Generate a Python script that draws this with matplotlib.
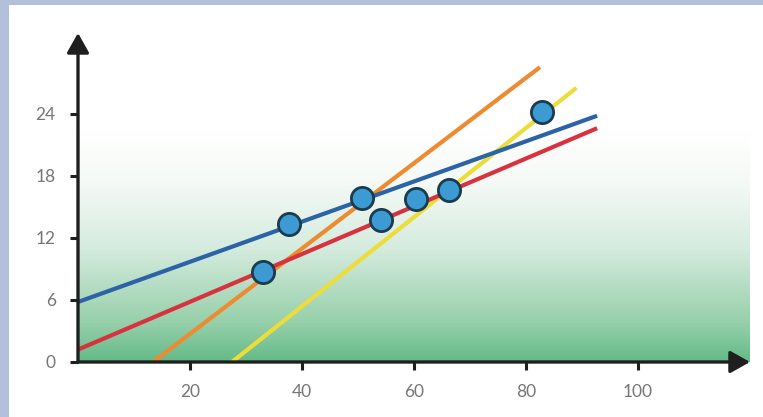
import matplotlib

matplotlib.use("Agg")
import matplotlib.pyplot as plt
import numpy as np
from matplotlib.colors import LinearSegmentedColormap
from matplotlib.patches import Rectangle

# data
point_x = [33.0, 37.6, 50.7, 54.1, 60.4, 66.3, 82.8]
point_y = [8.7, 13.3, 15.9, 13.7, 15.8, 16.6, 24.2]

blue_x = [0.0, 92.7]
blue_y = [5.8, 23.8]
red_x = [0.0, 92.7]
red_y = [1.2, 22.6]
orange_x = [13.4, 82.5]
orange_y = [0.0, 28.5]
yellow_x = [27.5, 89.0]
yellow_y = [0.0, 26.5]

x_ticks = [20, 40, 60, 80, 100]
y_ticks = [0, 6, 12, 18, 24]
x_max = 120.0
y_max = 31.8

plt.rcParams["font.family"] = ["Lato", "DejaVu Sans"]

fig = plt.figure(figsize=(7.63, 4.17), dpi=100)
# screenshot frame around the slide
fig.patches.append(Rectangle((0, 0), 1, 1, transform=fig.transFigure,
                             facecolor="#b3c0dc", edgecolor="none", zorder=-3))
fig.patches.append(Rectangle((9 / 763, 0), 1, 1 - 5 / 417, transform=fig.transFigure,
                             facecolor="white", edgecolor="none", zorder=-2))

ax = fig.add_axes([78 / 763, 55 / 417, 672 / 763, 329 / 417])
ax.patch.set_alpha(0)

green = LinearSegmentedColormap.from_list(
    "bg", [(0.0, "#64ba87"), (0.12, "#97d0ab"), (0.35, "#d6ecdf"),
           (0.55, "#f5faf6"), (0.7, "#ffffff"), (1.0, "#ffffff")]
)
grad = np.linspace(0, 1, 256).reshape(-1, 1)
ax.imshow(grad, cmap=green, origin="lower", aspect="auto",
          extent=[0, x_max, 0, y_max], zorder=0)

ax.plot(yellow_x, yellow_y, color="#eedc3a", lw=3, solid_capstyle="butt", zorder=2)
ax.plot(orange_x, orange_y, color="#ee8b30", lw=3, solid_capstyle="butt", zorder=2)
ax.plot(red_x, red_y, color="#d8323f", lw=3, solid_capstyle="butt", zorder=3)
ax.plot(blue_x, blue_y, color="#2b63a6", lw=3, solid_capstyle="butt", zorder=3)
ax.plot(point_x, point_y, "o", ms=16, mfc="#3b9bd2", mec="#1b3b4f", mew=2, zorder=5)

ax.set_xlim(0, x_max)
ax.set_ylim(0, y_max)
ax.set_xticks(x_ticks)
ax.set_yticks(y_ticks)
for s in ax.spines.values():
    s.set_visible(False)
ax.tick_params(direction="out", length=6, width=2.2, color="#1f1f1f",
               labelsize=12.5, labelcolor="#767676", pad=10)

arrow = dict(arrowstyle="-|>,head_length=0.8,head_width=0.45", lw=2.4,
             color="#1f1f1f", mutation_scale=15, shrinkA=0, shrinkB=0)
ax.annotate("", xy=(1.0, 0), xytext=(0, 0), xycoords="axes fraction", arrowprops=arrow)
ax.annotate("", xy=(0, 1.0), xytext=(0, 0), xycoords="axes fraction", arrowprops=arrow)

fig.savefig("out.png", dpi=100)
